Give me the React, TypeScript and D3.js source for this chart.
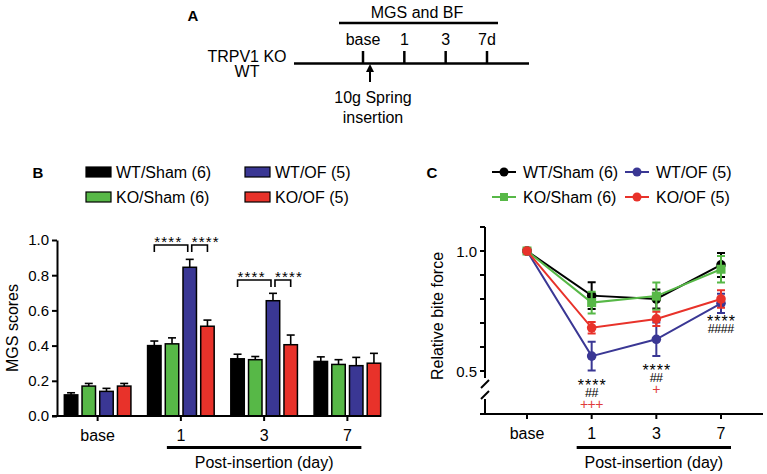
import React, { useEffect, useRef } from 'react';
import * as d3 from 'd3';

const W = 767;
const H = 474;
const FONT = '"Liberation Sans", Arial, Helvetica, sans-serif';

// shared categories
const days = ['base', '1', '3', '7'];
const timelineLabels = ['base', '1', '3', '7d'];
const groups = ['WT/Sham (6)', 'KO/Sham (6)', 'WT/OF (5)', 'KO/OF (5)'];
const colors = ['#000000', '#57b847', '#3a3794', '#e8322a'];

// panel B: MGS scores (mean, sem)
const mgsWtSham = [0.12, 0.4, 0.325, 0.31];
const mgsKoSham = [0.17, 0.41, 0.32, 0.293];
const mgsWtOf = [0.14, 0.845, 0.655, 0.286];
const mgsKoOf = [0.17, 0.51, 0.405, 0.3];
const mgsWtShamSem = [0.012, 0.026, 0.026, 0.026];
const mgsKoShamSem = [0.015, 0.034, 0.018, 0.027];
const mgsWtOfSem = [0.017, 0.045, 0.042, 0.047];
const mgsKoOfSem = [0.015, 0.035, 0.055, 0.056];

// panel C: relative bite force (mean, sem)
const bfWtSham = [1.0, 0.814, 0.8, 0.942];
const bfKoSham = [1.0, 0.785, 0.812, 0.924];
const bfWtOf = [1.0, 0.562, 0.632, 0.782];
const bfKoOf = [1.0, 0.68, 0.717, 0.8];
const bfWtShamSem = [0, 0.056, 0.04, 0.05];
const bfKoShamSem = [0, 0.045, 0.057, 0.055];
const bfWtOfSem = [0, 0.06, 0.07, 0.04];
const bfKoOfSem = [0, 0.024, 0.03, 0.036];

// significance
const mgsBrackets = [
  { day: '1', from: 0, to: 2, level: 0.972, label: '****' },
  { day: '1', from: 2, to: 3, level: 0.972, label: '****' },
  { day: '3', from: 0, to: 2, level: 0.773, label: '****' },
  { day: '3', from: 2, to: 3, level: 0.773, label: '****' },
];
const bfStars = ['', '****', '****', '****'];
const bfHashes = ['', '##', '##', '####'];
const bfPlus = ['', '+++', '+', ''];
const bfStarLevel = [0, 0.455, 0.517, 0.72];

type Sel = d3.Selection<SVGSVGElement, unknown, null, undefined>;

function txt(g: any, x: number, y: number, s: string, size: number, anchor = 'middle', weight = 'normal', fill = '#000') {
  return g.append('text')
    .attr('x', x).attr('y', y)
    .attr('text-anchor', anchor)
    .attr('dominant-baseline', 'central')
    .attr('font-family', FONT)
    .attr('font-size', size)
    .attr('font-weight', weight)
    .attr('fill', fill)
    .text(s);
}

// text placed on its baseline (used for the small significance marks)
function mark(g: any, x: number, base: number, s: string, size: number, spacing: number, fill = '#000', anchor = 'middle') {
  return g.append('text')
    .attr('x', anchor === 'middle' ? x + spacing / 2 : x).attr('y', base)
    .attr('text-anchor', anchor)
    .attr('font-family', FONT)
    .attr('font-size', size)
    .attr('letter-spacing', spacing)
    .attr('fill', fill)
    .text(s);
}

function drawTimeline(svg: Sel) {
  const g = svg.append('g');
  const x = d3.scalePoint().domain(timelineLabels).range([363, 487]);
  txt(g, 193, 15, 'A', 15, 'middle', 'bold');
  txt(g, 417, 12, 'MGS and BF', 16);
  g.append('line').attr('x1', 339).attr('x2', 498).attr('y1', 23).attr('y2', 23)
    .attr('stroke', '#000').attr('stroke-width', 2.5);
  g.append('line').attr('x1', 294).attr('x2', 529).attr('y1', 63.5).attr('y2', 63.5)
    .attr('stroke', '#000').attr('stroke-width', 2.5);
  timelineLabels.forEach(d => {
    g.append('line').attr('x1', x(d)!).attr('x2', x(d)!).attr('y1', 51).attr('y2', 63.5)
      .attr('stroke', '#000').attr('stroke-width', 2.5);
    txt(g, x(d)!, 39, d, 16);
  });
  txt(g, 247, 56, 'TRPV1 KO', 16);
  txt(g, 247, 71, 'WT', 16);
  // arrow
  const ax = x('base')! + 7;
  g.append('line').attr('x1', ax).attr('x2', ax).attr('y1', 82).attr('y2', 70)
    .attr('stroke', '#000').attr('stroke-width', 2);
  g.append('path').attr('d', `M${ax - 4},${72}L${ax},${64}L${ax + 4},${72}Z`).attr('fill', '#000');
  txt(g, 373, 97, '10g Spring', 16);
  txt(g, 373, 117, 'insertion', 16);
}

function drawBars(svg: Sel) {
  const g = svg.append('g');
  const means = [mgsWtSham, mgsKoSham, mgsWtOf, mgsKoOf];
  const sems = [mgsWtShamSem, mgsKoShamSem, mgsWtOfSem, mgsKoOfSem];
  const x0 = d3.scaleBand().domain(days).range([56, 389]).paddingInner(0.2).paddingOuter(0.1);
  const x1 = d3.scaleBand<number>().domain([0, 1, 2, 3]).range([0, x0.bandwidth()]).paddingInner(0.24);
  const y = d3.scaleLinear().domain([0, 1]).range([416, 240]);

  // legend
  txt(g, 38, 172, 'B', 15, 'middle', 'bold');
  groups.forEach((name, i) => {
    const lx = i % 2 === 0 ? 86 : 245;
    const ly = i < 2 ? 172 : 197;
    const order = [0, 2, 1, 3][i];
    g.append('rect').attr('x', lx).attr('y', ly - 5).attr('width', 25).attr('height', 10)
      .attr('fill', colors[order]).attr('stroke', '#000').attr('stroke-width', 1.2);
    txt(g, lx + 30, ly, groups[order], 16, 'start');
  });

  // y axis
  const ya = g.append('g').attr('transform', 'translate(57,0)')
    .call(d3.axisLeft(y).tickValues([0, 0.2, 0.4, 0.6, 0.8, 1.0]).tickFormat(d3.format('.1f')).tickSize(5).tickSizeOuter(0));
  ya.select('.domain').attr('stroke-width', 2);
  ya.selectAll('.tick line').attr('stroke-width', 2);
  ya.selectAll('.tick text').attr('font-family', FONT).attr('font-size', 15).attr('x', -8).attr('fill', '#000');
  g.append('text').attr('transform', `translate(12,${328}) rotate(-90)`)
    .attr('text-anchor', 'middle').attr('dominant-baseline', 'central')
    .attr('font-family', FONT).attr('font-size', 16).text('MGS scores');

  // bars
  means.forEach((vals, s) => {
    vals.forEach((v, i) => {
      const bx = x0(days[i])! + x1(s)!;
      const cx = bx + x1.bandwidth() / 2;
      g.append('line').attr('x1', cx).attr('x2', cx).attr('y1', y(v)).attr('y2', y(v + sems[s][i]))
        .attr('stroke', '#000').attr('stroke-width', 1.6);
      g.append('line').attr('x1', cx - 4).attr('x2', cx + 4).attr('y1', y(v + sems[s][i])).attr('y2', y(v + sems[s][i]))
        .attr('stroke', '#000').attr('stroke-width', 1.6);
      g.append('rect').attr('x', bx).attr('y', y(v)).attr('width', x1.bandwidth()).attr('height', y(0) - y(v))
        .attr('fill', colors[s]).attr('stroke', '#000').attr('stroke-width', 1.5);
    });
  });

  // x axis
  g.append('line').attr('x1', 52).attr('x2', 381).attr('y1', y(0)).attr('y2', y(0))
    .attr('stroke', '#000').attr('stroke-width', 2);
  days.forEach(d => {
    const cx = x0(d)! + x0.bandwidth() / 2;
    g.append('line').attr('x1', cx).attr('x2', cx).attr('y1', y(0)).attr('y2', y(0) + 5)
      .attr('stroke', '#000').attr('stroke-width', 2);
    txt(g, cx, 435, d, 16);
  });
  const pStart = x0('1')! + x0.bandwidth() / 2 - 14;
  const pEnd = x0('7')! + x0.bandwidth() / 2 + 14;
  g.append('line').attr('x1', pStart).attr('x2', pEnd).attr('y1', 447.5).attr('y2', 447.5)
    .attr('stroke', '#000').attr('stroke-width', 3);
  txt(g, (pStart + pEnd) / 2, 462, 'Post-insertion (day)', 16);

  // brackets, stars start at each bracket's left end
  mgsBrackets.forEach(b => {
    const xa = x0(b.day)! + x1(b.from)! + x1.bandwidth() / 2 + (b.from === 2 ? 2 : 0);
    const xb = x0(b.day)! + x1(b.to)! + x1.bandwidth() / 2 - (b.to === 2 ? 2 : 0);
    const by = y(b.level);
    g.append('path').attr('d', `M${xa},${by + 7}V${by}H${xb}V${by + 7}`)
      .attr('fill', 'none').attr('stroke', '#000').attr('stroke-width', 1.6);
    mark(g, xa, by + 2, b.label, 15, 1.2, '#000', 'start');
  });
}

function drawLines(svg: Sel) {
  const g = svg.append('g');
  const means = [bfWtSham, bfKoSham, bfWtOf, bfKoOf];
  const sems = [bfWtShamSem, bfKoShamSem, bfWtOfSem, bfKoOfSem];
  const x = d3.scalePoint().domain(days).range([527, 721]);
  const y = d3.scaleLinear().domain([0.5, 1.1]).range([371, 227]);
  const axisX = 485;
  const baseY = 414;

  // legend
  txt(g, 432, 172, 'C', 15, 'middle', 'bold');
  groups.forEach((name, i) => {
    const order = [0, 2, 1, 3][i];
    const lx = i % 2 === 0 ? 492 : 625;
    const ly = i < 2 ? 172 : 197;
    g.append('line').attr('x1', lx).attr('x2', lx + 24).attr('y1', ly).attr('y2', ly)
      .attr('stroke', colors[order]).attr('stroke-width', 2);
    if (order === 1) {
      g.append('rect').attr('x', lx + 8).attr('y', ly - 4).attr('width', 8).attr('height', 8).attr('fill', colors[order]);
    } else {
      g.append('circle').attr('cx', lx + 12).attr('cy', ly).attr('r', 4.5).attr('fill', colors[order]);
    }
    txt(g, lx + 31, ly, groups[order], 16, 'start');
  });

  // y axis with break
  g.append('line').attr('x1', axisX).attr('x2', axisX).attr('y1', y(1.1)).attr('y2', 378)
    .attr('stroke', '#000').attr('stroke-width', 2);
  g.append('line').attr('x1', axisX).attr('x2', axisX).attr('y1', 399).attr('y2', baseY)
    .attr('stroke', '#000').attr('stroke-width', 2);
  [[388, 380], [399, 391]].forEach(([a, b]) => {
    g.append('line').attr('x1', axisX - 4).attr('x2', axisX + 4).attr('y1', a).attr('y2', b)
      .attr('stroke', '#000').attr('stroke-width', 2);
  });
  const yTicks = d3.range(0.5, 1.11, 0.1);
  yTicks.forEach(t => {
    g.append('line').attr('x1', axisX - 5).attr('x2', axisX).attr('y1', y(t)).attr('y2', y(t))
      .attr('stroke', '#000').attr('stroke-width', 2);
  });
  [0.5, 1.0].forEach(t => txt(g, axisX - 8, y(t), d3.format('.1f')(t), 15, 'end'));
  g.append('text').attr('transform', `translate(437,${316}) rotate(-90)`)
    .attr('text-anchor', 'middle').attr('dominant-baseline', 'central')
    .attr('font-family', FONT).attr('font-size', 16).text('Relative bite force');

  // x axis
  g.append('line').attr('x1', axisX - 5).attr('x2', 763).attr('y1', baseY).attr('y2', baseY)
    .attr('stroke', '#000').attr('stroke-width', 2);
  days.forEach(d => {
    g.append('line').attr('x1', x(d)!).attr('x2', x(d)!).attr('y1', baseY).attr('y2', baseY + 5)
      .attr('stroke', '#000').attr('stroke-width', 2);
    txt(g, x(d)!, 433, d, 16);
  });
  const pStart = x('1')! - 15;
  const pEnd = x('7')! + 10;
  g.append('line').attr('x1', pStart).attr('x2', pEnd).attr('y1', 447.5).attr('y2', 447.5)
    .attr('stroke', '#000').attr('stroke-width', 3);
  txt(g, (pStart + pEnd) / 2, 462, 'Post-insertion (day)', 16);

  // series: draw order black, blue, green, red
  const line = d3.line<number>().x((_, i) => x(days[i])!).y(v => y(v));
  [0, 2, 1, 3].forEach(s => {
    const c = colors[s];
    g.append('path').attr('d', line(means[s])!).attr('fill', 'none').attr('stroke', c).attr('stroke-width', 2);
    means[s].forEach((v, i) => {
      const cx = x(days[i])!;
      const e = sems[s][i];
      if (e > 0) {
        g.append('path')
          .attr('d', `M${cx},${y(v + e)}V${y(v - e)}M${cx - 4},${y(v + e)}H${cx + 4}M${cx - 4},${y(v - e)}H${cx + 4}`)
          .attr('stroke', c).attr('stroke-width', 2).attr('fill', 'none');
      }
      if (s === 1) {
        g.append('rect').attr('x', cx - 4.5).attr('y', y(v) - 4.5).attr('width', 9).attr('height', 9).attr('fill', c);
      } else {
        g.append('circle').attr('cx', cx).attr('cy', y(v)).attr('r', 4.8).attr('fill', c);
      }
    });
  });

  // significance marks (asterisks sit high in the glyph box)
  days.forEach((d, i) => {
    if (!bfStars[i]) return;
    const sy = y(bfStarLevel[i]);
    mark(g, x(d)!, sy + 9, bfStars[i], 16, 1);
    mark(g, x(d)!, sy + 15, bfHashes[i], 12.5, -0.5);
    if (bfPlus[i]) mark(g, x(d)!, sy + 27, bfPlus[i], 14, -0.5, '#e03c3c');
  });
}

export default function App() {
  const ref = useRef<SVGSVGElement>(null);

  useEffect(() => {
    const svg = d3.select(ref.current!) as Sel;
    svg.selectAll('*').remove();
    drawTimeline(svg);
    drawBars(svg);
    drawLines(svg);
  }, []);

  return (
    <svg ref={ref} width={W} height={H}
      style={{ position: 'absolute', left: 0, top: 0, background: '#fff' }} />
  );
}
